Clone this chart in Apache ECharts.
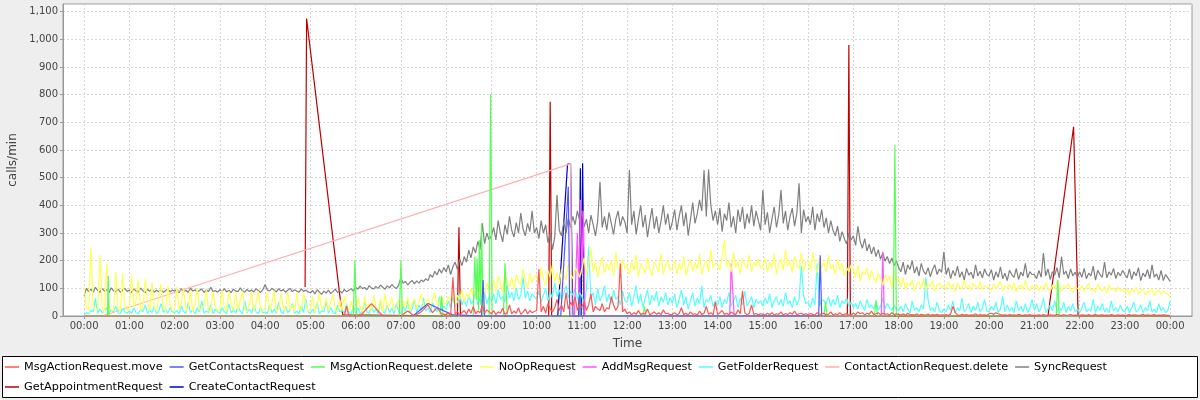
<!DOCTYPE html>
<html><head><meta charset="utf-8">
<script src="https://cdn.jsdelivr.net/npm/echarts@6/dist/echarts.min.js"></script>
<style>html,body{margin:0;padding:0;background:#eeeeee}#c{width:1200px;height:400px}</style>
</head><body><div id="c"></div><script>
// Time in minutes since 00:00. Dense series: one value every 3 minutes (20 per hour), 00:00 .. 24:00.
const seriesNames = ['MsgActionRequest.move','GetContactsRequest','MsgActionRequest.delete','NoOpRequest','AddMsgRequest','GetFolderRequest','ContactActionRequest.delete','SyncRequest','GetAppointmentRequest','CreateContactRequest'];
const seriesColors = ['#ff5555','#5555ff','#55ff55','#ffff55','#ff55ff','#55ffff','#ffafaf','#808080','#c00000','#0000c0'];
const hourTicks = [0,60,120,180,240,300,360,420,480,540,600,660,720,780,840,900,960,1020,1080,1140,1200,1260,1320,1380,1440];

const syncRequest = [
72,100,88,97,85,104,92,86,99,90,95,84,102,91,88,97,86,94,100,89,
93,85,98,90,87,101,92,84,96,89,99,86,93,88,97,85,92,99,87,94,
90,96,84,99,88,93,86,101,90,95,87,92,98,85,94,89,104,88,92,86,
95,89,99,87,93,85,97,90,88,102,91,86,96,89,94,87,99,92,85,95,
114,93,91,100,94,87,99,90,96,86,93,100,88,95,90,86,98,89,94,87,
84,92,80,95,86,78,90,83,94,81,88,97,85,91,83,96,88,93,99,90,
104,97,108,99,103,95,110,101,98,107,100,112,104,97,109,102,114,105,99,111,
138,118,125,112,122,128,116,127,119,130,124,135,128,150,140,162,148,170,155,175,
160,185,150,178,195,168,205,182,215,195,238,210,250,228,270,240,335,262,300,275,
290,320,275,345,300,268,330,295,360,310,285,338,300,372,315,290,335,305,380,300,
320,280,345,300,330,265,300,240,285,437,310,290,340,300,355,320,360,330,380,345,
383,322,350,300,365,330,290,345,485,320,360,310,375,335,295,350,380,325,360,340,
300,528,330,380,295,350,400,320,365,285,340,390,315,360,300,345,400,330,370,310,
340,385,310,360,400,325,375,290,350,410,335,370,420,380,528,360,530,400,345,380,
330,390,305,370,345,410,320,360,300,385,340,395,315,370,335,400,325,380,345,310,
455,330,375,300,350,395,320,365,455,335,380,310,360,390,325,370,480,300,385,340,
360,330,395,310,370,340,385,320,355,300,345,310,290,325,270,305,280,260,300,275,
290,255,324,270,245,280,235,260,225,250,215,240,205,228,198,215,190,210,182,200,
175,160,195,150,185,168,200,155,178,145,190,162,150,175,142,168,185,150,170,158,
232,150,175,135,165,145,180,140,160,130,172,148,158,135,185,145,162,138,170,150,
145,168,130,160,140,178,135,155,128,165,150,140,172,132,158,145,190,138,160,150,
150,135,165,140,228,145,170,132,160,148,175,138,215,150,162,135,170,145,158,140,
160,140,172,135,155,145,180,130,165,150,140,195,138,160,148,172,135,158,145,165,
150,138,170,132,160,145,175,128,155,142,168,135,185,140,152,130,165,128,150,138,
125];

const noOpRequest = [
105,30,20,248,35,18,28,220,25,15,190,30,22,20,160,28,18,154,32,20,
25,148,30,60,133,22,28,133,55,20,124,30,18,70,115,25,18,110,40,22,
20,105,25,45,98,18,30,92,15,50,100,22,28,40,95,20,15,88,35,18,
22,95,30,15,90,40,20,85,18,55,92,25,15,38,88,20,48,90,22,18,
30,85,20,45,92,15,25,80,35,18,88,22,40,15,85,28,20,82,45,18,
25,70,15,40,82,20,30,65,18,50,78,25,15,60,20,72,30,18,55,22,
20,65,30,15,70,25,45,18,75,30,20,62,15,80,25,40,68,20,30,58,
25,55,30,70,20,45,62,28,50,80,35,40,65,30,58,85,40,52,75,45,
45,70,55,85,40,75,60,95,50,80,65,100,70,90,60,110,85,75,120,95,
100,130,90,145,115,85,160,120,105,140,95,150,125,110,170,130,100,155,120,140,
150,120,175,135,110,165,140,185,125,155,115,170,145,130,190,150,135,175,160,140,
170,210,150,185,245,160,195,140,180,215,155,190,165,200,145,230,175,160,205,170,
185,150,200,165,220,140,190,175,155,210,170,145,195,180,160,225,150,185,200,165,
175,200,150,190,165,215,145,180,205,160,195,170,225,150,185,200,160,240,175,190,
190,165,215,275,180,200,160,230,175,195,150,210,185,170,220,160,195,180,205,170,
180,210,160,195,175,225,150,190,205,165,240,180,200,155,215,185,170,230,160,195,
200,165,230,180,155,210,175,195,160,220,170,185,150,205,165,190,145,175,160,185,
170,140,185,125,160,150,175,130,165,140,120,155,135,110,150,125,145,100,165,130,
135,105,140,95,120,110,130,90,115,125,100,135,95,118,105,128,90,112,120,100,
110,95,125,100,115,88,120,105,95,130,100,112,92,118,108,98,125,95,110,102,
105,92,118,98,110,125,90,108,100,115,95,120,88,105,112,95,130,100,92,110,
100,115,90,108,95,120,102,88,112,98,125,105,92,110,100,118,95,85,108,100,
95,110,88,105,120,92,100,85,115,98,90,108,82,112,95,100,88,105,92,98,
85,100,78,95,88,105,80,92,98,75,90,85,100,72,88,95,78,90,82,80,
65];

const getFolderRequest = [
5,12,8,20,15,64,10,25,12,18,30,10,22,15,35,12,8,28,15,10,
18,10,30,12,8,25,15,40,10,20,12,35,8,18,45,12,25,10,30,15,
12,20,8,35,15,10,48,12,22,8,30,15,55,10,18,12,40,8,25,15,
10,30,15,8,45,12,20,10,35,18,8,55,12,25,10,40,15,8,30,12,
15,8,40,12,25,10,50,15,8,35,12,20,45,10,18,8,38,12,62,15,
10,25,12,48,8,20,15,55,10,30,12,8,40,15,22,10,45,12,8,35,
12,30,8,20,50,15,10,38,12,25,8,55,15,10,40,12,28,8,45,15,
10,35,18,55,12,25,60,15,40,20,65,18,30,12,48,25,15,70,20,35,
25,55,30,70,35,50,80,40,60,35,75,45,55,90,40,65,50,85,45,70,
55,80,45,95,60,70,50,110,65,85,55,100,60,75,140,65,90,55,80,70,
60,90,50,75,100,55,85,65,120,70,95,60,80,110,65,90,75,100,60,85,
70,45,95,250,60,85,40,100,55,75,110,50,80,45,95,60,70,40,90,55,
50,85,35,70,110,45,80,30,65,95,40,75,55,90,35,70,50,85,40,65,
45,80,30,60,95,40,70,25,55,85,35,65,45,110,30,60,50,75,35,55,
40,70,30,60,45,85,35,55,75,30,65,40,90,35,50,70,30,60,45,55,
35,65,45,80,30,55,70,40,60,35,85,45,55,30,70,40,60,180,75,45,
50,30,65,40,190,35,60,55,45,70,35,60,40,75,30,55,45,65,35,50,
30,45,25,55,35,20,60,30,40,25,50,20,35,65,25,45,30,20,40,25,
20,35,15,45,25,10,55,20,30,15,40,25,140,60,20,30,15,50,20,12,
25,15,40,20,55,12,30,18,65,15,25,45,12,35,20,50,15,28,60,18,
15,35,20,50,12,25,70,15,40,18,30,12,55,20,35,15,45,12,28,60,
20,45,15,30,65,12,25,40,18,55,15,30,20,50,12,35,18,45,15,25,
12,30,50,15,25,18,60,12,35,20,45,15,28,12,55,18,30,15,40,20,
15,35,12,28,50,15,22,40,12,30,18,55,15,25,12,45,18,30,12,20,
55];

// MsgActionRequest.move: sparse samples before 08:00 ([minute, value]), then every 3 min from 08:00
const msgMoveEarly = [[0,0],[345,0],[348,36],[351,0],[366,0],[381,45],[396,0],[420,0],[429,18],[438,0],[447,15],[456,40],[462,12],[468,30],[474,8]];
const msgMoveLate = [
5,10,3,140,8,15,4,12,20,6,25,10,35,8,18,12,40,10,22,15,
8,20,5,15,10,28,6,12,40,8,18,10,30,6,14,25,8,20,12,16,
20,170,15,35,10,45,25,15,30,60,20,40,15,85,25,50,35,70,20,45,
30,55,20,40,80,15,35,25,20,45,15,30,25,70,40,20,35,190,15,25,
8,15,4,12,6,20,5,10,7,25,4,9,15,6,12,5,22,8,10,4,
6,12,4,9,30,5,10,3,15,6,8,4,18,5,10,35,6,12,4,50,
5,12,20,6,10,4,15,8,5,22,8,90,12,4,10,40,6,9,4,8,
6,4,10,5,12,3,8,6,15,4,9,5,12,6,18,4,8,10,5,8,
4,9,6,3,12,5,8,10,4,6,15,3,8,5,12,4,6,9,3,5,
10,5,15,8,12,4,10,6,18,5,8,12,4,10,6,8,3,12,5,8,
6,3,8,2,10,4,5,3,8,2,6,4,3,7,2,5,3,6,2,4,
3,5,2,8,35,12,4,2,6,3,5,2,4,3,8,2,5,3,4,2,
8,10,6,12,8,5,3,4,2,5,3,4,2,6,3,2,4,3,5,2,
3,2,4,2,5,3,2,4,3,2,6,3,2,4,2,3,5,2,3,2,
2,4,3,2,5,2,3,6,2,3,4,2,3,2,5,3,2,4,2,3,
2,3,5,2,4,3,2,3,6,2,4,2,3,5,2,3,2,4,3,2,
2];

// Sparse series as [minute, value]
const msgDelete = [[0,0],[31,0],[32,145],[33,0],[357,0],[359,202],[361,0],[418,0],[420,200],[422,0],[472,0],[474,70],[476,0],[516,0],[518,214],[520,60],[521,208],[523,20],[524,275],[526,40],[527,335],[529,0],[537,0],[539,802],[541,0],[556,0],[558,191],[559,137],[561,0],[741,0],[743,34],[745,0],[981,0],[983,52],[985,0],[1048,0],[1050,58],[1052,0],[1073,0],[1075,618],[1077,0],[1289,0],[1291,130],[1293,0],[1440,0]];
const getAppointment = [[293,105],[295,1075],[340,52],[343,4],[495,0],[497,321],[499,0],[616,0],[618,775],[620,0],[1012,0],[1014,980],[1016,0],[1278,0],[1312,684],[1318,0],[1440,0]];
const contactDelete = [[24,0],[645,550],[647,0]];
const getContacts = [[436,0],[456,45],[488,5],[527,0],[529,130],[531,0],[632,0],[642,467],[644,0],[974,0],[976,220],[978,0]];
const createContact = [[628,0],[641,549],[645,549],[648,0],[656,0],[658,534],[659,0],[660,0],[661,552],[663,0]];
const addMsg = [[650,0],[654,300],[656,80],[658,420],[660,150],[662,380],[664,0],[856,0],[858,190],[860,190],[862,0],[1057,0],[1059,232],[1061,0]];

function dense(vals, start, step) {
  const out = [];
  vals.forEach((v, i) => { if (v !== null) out.push([start + i * step, v]); });
  return out;
}
const seriesData = {
  'MsgActionRequest.move': msgMoveEarly.concat(dense(msgMoveLate, 480, 3)),
  'GetContactsRequest': getContacts,
  'MsgActionRequest.delete': msgDelete,
  'NoOpRequest': dense(noOpRequest, 0, 3),
  'AddMsgRequest': addMsg,
  'GetFolderRequest': dense(getFolderRequest, 0, 3),
  'ContactActionRequest.delete': contactDelete,
  'SyncRequest': dense(syncRequest, 0, 3),
  'GetAppointmentRequest': getAppointment,
  'CreateContactRequest': createContact
};

const FONT = "'DejaVu Sans', sans-serif";
function pad(n){ return (n < 10 ? '0' : '') + n; }
function fmtTime(v){ return pad(Math.floor(v / 60) % 24) + ':' + pad(v % 60); }

// first legend entry is drawn on top (reverse rendering order)
const series = seriesNames.map((name, i) => ({
  name: name, type: 'line', data: seriesData[name],
  showSymbol: false, symbol: 'none', animation: false,
  color: seriesColors[i],
  lineStyle: { width: 1.2, color: seriesColors[i] },
  emphasis: { disabled: true }
})).reverse();

const chart = echarts.init(document.getElementById('c'), null, { renderer: 'canvas' });
chart.setOption({
  backgroundColor: '#eeeeee',
  animation: false,
  textStyle: { fontFamily: FONT },
  grid: { left: 63, right: 8, top: 4, bottom: 84, outerBoundsMode: 'none', containLabel: false,
    show: true, backgroundColor: '#ffffff', borderColor: '#999999', borderWidth: 1 },
  xAxis: {
    type: 'value', min: -28, max: 1469,
    name: 'Time', nameLocation: 'middle', nameGap: 22,
    nameTextStyle: { fontSize: 12, color: '#444', fontFamily: FONT },
    axisLine: { show: true, onZero: false, lineStyle: { color: '#999' } },
    axisTick: { show: true, customValues: hourTicks, length: 3, lineStyle: { color: '#999' } },
    axisLabel: { customValues: hourTicks, formatter: fmtTime, fontSize: 10, color: '#444', margin: 5, fontFamily: FONT },
    splitLine: { show: true, lineStyle: { color: '#d6d6d6', type: [2, 2], width: 1 } }
  },
  yAxis: {
    type: 'value', min: 0, max: 1128, interval: 100,
    name: 'calls/min', nameLocation: 'middle', nameGap: 42, nameRotate: 90,
    nameTextStyle: { fontSize: 12, color: '#444', fontFamily: FONT },
    axisLine: { show: true, onZero: false, lineStyle: { color: '#999' } },
    axisTick: { show: true, length: 3, lineStyle: { color: '#999' } },
    axisLabel: { showMaxLabel: false, fontSize: 10, color: '#444', margin: 5, fontFamily: FONT,
      formatter: v => v.toLocaleString('en-US') },
    splitLine: { show: true, lineStyle: { color: '#d6d6d6', type: [2, 2], width: 1 } }
  },
  graphic: [{
    type: 'rect', z: 0, silent: true,
    shape: { x: 2.5, y: 356.5, width: 1195, height: 41 },
    style: { fill: '#ffffff', stroke: '#000000', lineWidth: 1 }
  }],
  legend: {
    data: seriesNames, left: 5, top: 360.5, width: 1180, padding: 0, z: 10,
    icon: 'rect', itemWidth: 14, itemHeight: 1.5, itemGap: 7,
    textStyle: { fontSize: 11.25, lineHeight: 13, color: '#000', fontFamily: FONT },
    selectedMode: false
  },
  series: series
});
</script></body></html>
